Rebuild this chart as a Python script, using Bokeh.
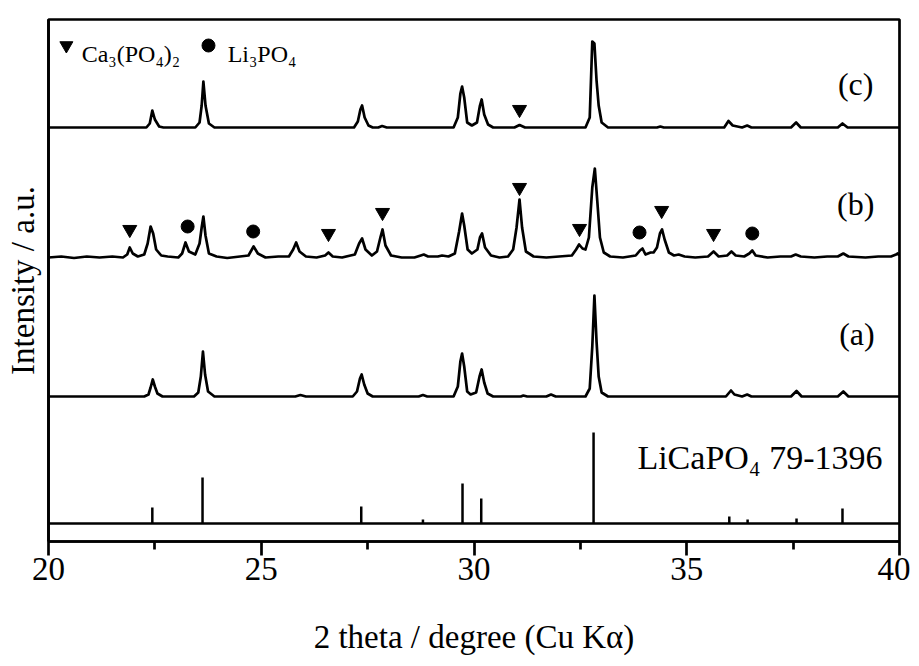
from bokeh.plotting import figure
from bokeh.models import Range1d, FixedTicker, Label
from bokeh.embed import file_html
from bokeh.resources import INLINE

FONT = "Liberation Serif"

# ---- data (intensity above each pattern's baseline, arbitrary units) ----
pattern_a = [
    (20.00, 0), (22.25, 0), (22.35, 2), (22.40, 9), (22.45, 17), (22.50, 10), (22.56, 3), (22.68, 0),
    (23.42, 0), (23.52, 4), (23.58, 20), (23.63, 45), (23.68, 22), (23.75, 5), (23.90, 0),
    (25.80, 0), (25.92, 1.5), (26.05, 0),
    (27.15, 0), (27.25, 5), (27.32, 18), (27.36, 22), (27.42, 12), (27.50, 3), (27.62, 0),
    (28.70, 0), (28.80, 1.5), (28.90, 0),
    (29.52, 0), (29.62, 10), (29.68, 35), (29.72, 43), (29.77, 30), (29.84, 5), (29.92, 2),
    (30.05, 4), (30.13, 20), (30.18, 27), (30.24, 14), (30.32, 3), (30.45, 0),
    (31.10, 0), (31.16, 1), (31.25, 0), (31.70, 0), (31.81, 2), (31.92, 0),
    (32.62, 0), (32.72, 8), (32.78, 50), (32.83, 101), (32.88, 55), (32.93, 20), (33.00, 4), (33.15, 0),
    (35.92, 0), (36.04, 6), (36.12, 2), (36.30, 0), (36.42, 2), (36.52, 0),
    (37.45, 0), (37.58, 5.5), (37.70, 0),
    (38.55, 0), (38.68, 5), (38.80, 0), (40.00, 0),
]

pattern_b = [
    (20.00, 0), (20.30, 1), (20.60, -0.5), (20.90, 1), (21.20, 0), (21.50, 1), (21.75, 0),
    (21.85, 3), (21.91, 10), (21.98, 4), (22.10, 1),
    (22.25, 3), (22.33, 14), (22.40, 31), (22.46, 24), (22.53, 8), (22.65, 2), (22.80, 1),
    (23.05, 0), (23.14, 4), (23.22, 15), (23.30, 6), (23.45, 3),
    (23.55, 14), (23.60, 30), (23.64, 41), (23.69, 22), (23.77, 4), (23.95, 1),
    (24.20, -0.5), (24.50, 1), (24.70, 2), (24.82, 11), (24.92, 4), (25.10, 0), (25.40, 1),
    (25.65, 1), (25.75, 8), (25.82, 15), (25.90, 6), (26.05, 1), (26.30, 0),
    (26.50, 2), (26.58, 5), (26.68, 1), (26.90, 0),
    (27.20, 3), (27.30, 14), (27.37, 19), (27.45, 8), (27.60, 2),
    (27.72, 6), (27.80, 20), (27.85, 28), (27.92, 12), (28.05, 2), (28.30, 0),
    (28.60, 0), (28.75, 2), (28.82, 3), (28.92, 1), (29.15, 1), (29.25, 2), (29.40, 1),
    (29.55, 4), (29.65, 26), (29.72, 44), (29.77, 32), (29.85, 8), (29.95, 4),
    (30.08, 8), (30.14, 20), (30.19, 24), (30.26, 10), (30.40, 2), (30.60, 0),
    (30.80, 1), (30.92, 8), (31.00, 30), (31.07, 58), (31.13, 30), (31.22, 6), (31.40, 1),
    (31.70, 0), (32.00, 1), (32.30, 2), (32.40, 8), (32.47, 13), (32.55, 9), (32.62, 8),
    (32.70, 20), (32.78, 70), (32.84, 89), (32.90, 55), (32.96, 20), (33.05, 5), (33.20, 1),
    (33.50, 0), (33.80, 2), (33.90, 7), (33.96, 9), (34.03, 3), (34.15, 5), (34.22, 5),
    (34.30, 10), (34.37, 24), (34.42, 28), (34.48, 18), (34.58, 5), (34.70, 2),
    (34.81, 3), (34.95, 1), (35.20, 0), (35.50, 1), (35.63, 6), (35.75, 1),
    (35.95, 2), (36.05, 6), (36.15, 2), (36.35, 1), (36.47, 4), (36.54, 7), (36.62, 2),
    (36.90, 0), (37.20, 1), (37.45, 1), (37.56, 3), (37.68, 1), (38.00, 0),
    (38.30, 1), (38.55, 1), (38.68, 4), (38.80, 1), (39.20, 0), (39.50, 1),
    (39.80, 1), (39.92, 3), (39.96, 4), (40.00, 2),
]

pattern_c = [
    (20.00, 0), (22.30, 0), (22.38, 4), (22.44, 17), (22.50, 8), (22.60, 1), (22.70, 0),
    (23.45, 0), (23.55, 5), (23.60, 22), (23.64, 46), (23.69, 22), (23.77, 4), (23.90, 0),
    (27.18, 0), (27.27, 6), (27.33, 18), (27.37, 22), (27.43, 10), (27.52, 2), (27.62, 0),
    (27.75, 0), (27.84, 1.5), (27.95, 0),
    (29.52, 0), (29.62, 10), (29.68, 34), (29.72, 41), (29.77, 30), (29.84, 5), (29.95, 2),
    (30.07, 5), (30.14, 22), (30.18, 28), (30.24, 13), (30.33, 3), (30.45, 0),
    (30.95, 0), (31.07, 2.5), (31.20, 0),
    (32.62, 0), (32.72, 10), (32.78, 86), (32.83, 84), (32.88, 47), (32.93, 22), (33.00, 5), (33.15, 0),
    (34.30, 0), (34.38, 1), (34.46, 0),
    (35.88, 0), (35.98, 6.5), (36.08, 2), (36.30, 0), (36.42, 2), (36.52, 0),
    (37.45, 0), (37.57, 5), (37.68, 0),
    (38.55, 0), (38.66, 4), (38.78, 0), (40.00, 0),
]

# reference pattern LiCaPO4 79-1396
ref_pos = [22.44, 23.62, 27.35, 28.80, 29.73, 30.17, 32.81, 36.00, 36.43, 37.58, 38.66]
ref_int = [16, 46, 17, 4, 40, 25, 91, 7, 4, 5, 15]

# phase markers (2theta, height above pattern baseline)
b_tri_x = [21.91, 26.58, 27.85, 31.07, 32.48, 34.41, 35.63]
b_tri_h = [28, 24, 45, 70, 29, 47, 24]
b_dot_x = [23.27, 24.81, 33.89, 36.54]
b_dot_h = [31, 26, 25, 24]
c_tri_x = [31.07]
c_tri_h = [18]

legend_labels = ["Ca₃(PO₄)₂", "Li₃PO₄"]
tick_vals = [20, 25, 30, 35, 40]
minor_vals = [22.5, 27.5, 32.5, 37.5]

# ---- layout offsets ----
off_ref, off_a, off_b, off_c = 18, 145, 284, 414
LW = 2.7

p = figure(frame_width=851, frame_height=522, output_backend="svg", toolbar_location=None,
           x_range=Range1d(20, 40), y_range=Range1d(0, 522),
           min_border_left=48, min_border_right=11, min_border_top=19, min_border_bottom=117)
p.background_fill_color = "white"
p.border_fill_color = "white"
p.grid.visible = False
p.outline_line_color = "black"
p.outline_line_width = LW

ax = p.xaxis[0]
ax.ticker = FixedTicker(ticks=tick_vals, minor_ticks=minor_vals)
ax.major_tick_in = 0
ax.major_tick_out = 14
ax.minor_tick_in = 0
ax.minor_tick_out = 8
ax.major_tick_line_width = LW
ax.minor_tick_line_width = LW
ax.axis_line_width = LW
ax.major_label_text_font = FONT
ax.major_label_text_font_size = "33px"
ax.major_label_text_color = "black"
ax.major_label_standoff = 2
ax.axis_label = "2 theta / degree (Cu Kα)"
ax.axis_label_text_font = FONT
ax.axis_label_text_font_size = "33px"
ax.axis_label_text_font_style = "normal"
ax.axis_label_text_color = "black"
ax.axis_label_standoff = 36

ay = p.yaxis[0]
ay.ticker = FixedTicker(ticks=[])
ay.major_tick_line_color = None
ay.minor_tick_line_color = None
ay.axis_line_width = LW
ay.axis_label = "Intensity / a.u."
ay.axis_label_text_font = FONT
ay.axis_label_text_font_size = "33px"
ay.axis_label_text_font_style = "normal"
ay.axis_label_text_color = "black"
ay.axis_label_standoff = 8

# patterns
for pat, off in ((pattern_a, off_a), (pattern_b, off_b), (pattern_c, off_c)):
    xs = [q[0] for q in pat]
    ys = [q[1] + off for q in pat]
    p.line(xs, ys, line_color="black", line_width=LW, line_join="round")

# reference sticks
p.line([20, 40], [off_ref, off_ref], line_color="black", line_width=LW)
p.segment(x0=ref_pos, y0=[off_ref] * len(ref_pos), x1=ref_pos,
          y1=[off_ref + h for h in ref_int], line_color="black", line_width=2.5)

# markers
tri_x = b_tri_x + c_tri_x
tri_y = [off_b + h for h in b_tri_h] + [off_c + h for h in c_tri_h]
p.scatter(tri_x, tri_y, marker="inverted_triangle", size=14, color="black")
p.scatter(b_dot_x, [off_b + h for h in b_dot_h], marker="circle", size=13, color="black")

# legend row at the top (drawn manually)
p.scatter([20.42], [496], marker="inverted_triangle", size=13, color="black")
p.scatter([23.76], [496], marker="circle", size=13, color="black")
p.add_layout(Label(x=20.78, y=488, text=legend_labels[0], text_align="left",
                   text_baseline="alphabetic", text_font=FONT, text_font_size="24px",
                   text_color="black"))
p.add_layout(Label(x=24.21, y=488, text=legend_labels[1], text_align="left",
                   text_baseline="alphabetic", text_font=FONT, text_font_size="24px",
                   text_color="black"))

for txt, x, y in (("(c)", 38.97, 458), ("(b)", 38.97, 338), ("(a)", 39.0, 208)):
    p.add_layout(Label(x=x, y=y, text=txt, text_align="center", text_baseline="middle",
                       text_font=FONT, text_font_size="32px", text_color="black"))

p.add_layout(Label(x=33.84, y=84, text="LiCaPO₄ 79-1396", text_align="left",
                   text_baseline="alphabetic", text_font=FONT, text_font_size="34px",
                   text_color="black"))

open("out.html", "w").write(file_html(p, INLINE))
